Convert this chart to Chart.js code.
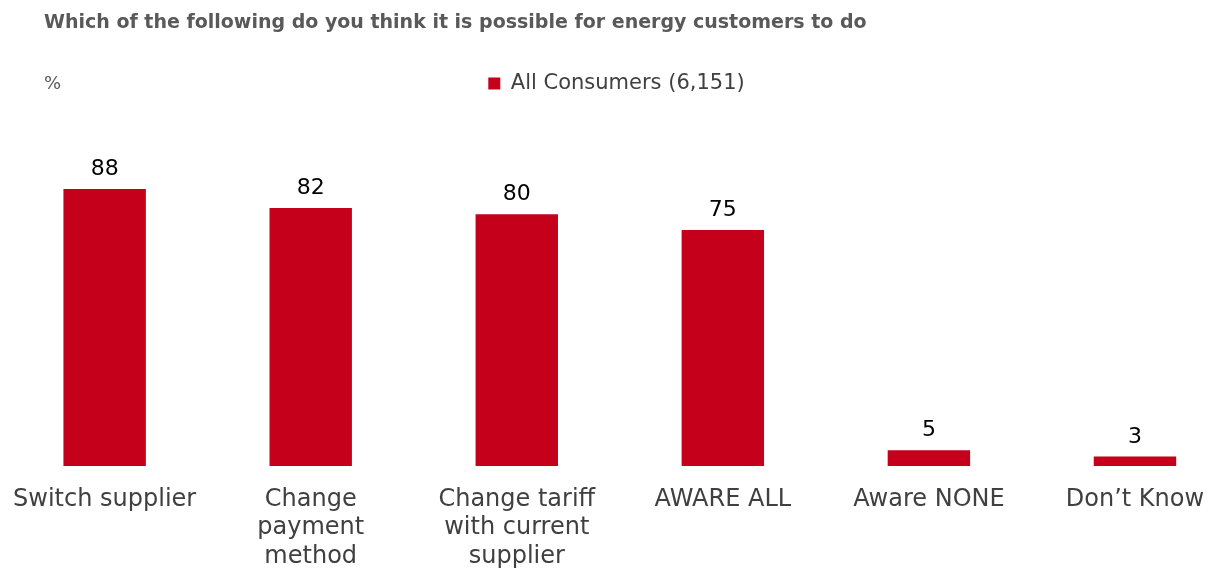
<!DOCTYPE html>
<html>
<head>
<meta charset="utf-8">
<script src="https://cdn.jsdelivr.net/npm/chart.js@4"></script>
<style>
  html, body { margin: 0; padding: 0; background: #fff; overflow: hidden; }
  #wrap { position: relative; width: 1213px; height: 569px; overflow: hidden; }
  #title { position: absolute; left: 44px; top: 10px; font: bold 19px "DejaVu Sans", sans-serif; color: #595959; white-space: nowrap; }
  #unit { position: absolute; left: 44px; top: 72px; font: 18px "DejaVu Sans", sans-serif; color: #595959; }
  #chart { position: absolute; left: -6px; top: 0; }
</style>
</head>
<body>
<div id="wrap">
  <canvas id="chart" width="1246" height="569"></canvas>
  <div id="title">Which of the following do you think it is possible for energy customers to do</div>
  <div id="unit">%</div>
</div>
<script>
const categories = [
  'Switch supplier',
  ['Change', 'payment', 'method'],
  ['Change tariff', 'with current', 'supplier'],
  'AWARE ALL',
  'Aware NONE',
  'Don\u2019t Know'
];
const seriesName = 'All Consumers (6,151)';
const seriesValues = [88, 82, 80, 75, 5, 3];

const barColor = '#c5001a';

// draws the value above each bar
const valueLabels = {
  id: 'valueLabels',
  afterDatasetsDraw(chart) {
    const ctx = chart.ctx;
    const meta = chart.getDatasetMeta(0);
    ctx.save();
    ctx.font = '22px "DejaVu Sans", sans-serif';
    ctx.fillStyle = '#000';
    ctx.textAlign = 'center';
    ctx.textBaseline = 'alphabetic';
    meta.data.forEach((bar, i) => {
      ctx.fillText(String(seriesValues[i]), bar.x, bar.y - 14);
    });
    ctx.restore();
  }
};

new Chart(document.getElementById('chart'), {
  type: 'bar',
  data: {
    labels: categories,
    datasets: [{
      label: seriesName,
      data: seriesValues,
      backgroundColor: barColor,
      categoryPercentage: 0.8,
      barPercentage: 0.5
    }]
  },
  options: {
    responsive: false,
    animation: false,
    layout: { padding: { top: 65, left: 1, right: 2, bottom: 0 } },
    plugins: {
      legend: {
        display: true,
        labels: {
          font: { family: 'DejaVu Sans', size: 21 },
          color: '#404040',
          boxWidth: 12,
          boxHeight: 12,
          padding: 8
        }
      },
      tooltip: { enabled: false }
    },
    scales: {
      x: {
        grid: { display: false, drawTicks: false },
        border: { display: false },
        ticks: {
          font: { family: 'DejaVu Sans', size: 24, lineHeight: 1.2 },
          color: '#404040',
          padding: 19,
          maxRotation: 0,
          autoSkip: false
        },
        afterFit: (s) => { s.height = 103; }
      },
      y: {
        display: false,
        min: 0,
        max: 115
      }
    }
  },
  plugins: [valueLabels]
});
</script>
</body>
</html>
